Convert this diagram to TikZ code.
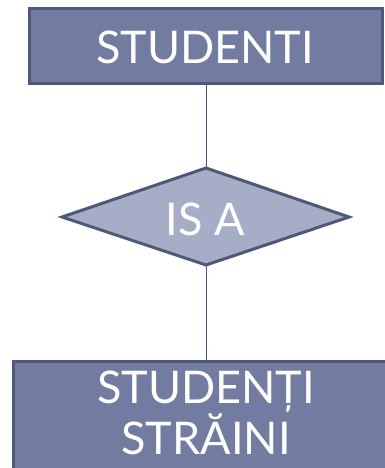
\documentclass[tikz,border=0pt]{standalone}
\usepackage{fontspec}
\setmainfont{Lato}
\usetikzlibrary{shapes.geometric}
\definecolor{boxfill}{HTML}{727BA0}
\definecolor{boxline}{HTML}{4F5878}
\definecolor{diafill}{HTML}{A7ADC7}
\tikzset{
  entity/.style={draw=boxline, fill=boxfill, line width=3pt, text=white, align=center},
  relation/.style={draw=boxline, fill=diafill, line width=3pt, text=white},
  link/.style={draw=boxline, line width=1pt},
  label/.style={text=white, align=center, font=\fontsize{45}{48}\selectfont}
}
\begin{document}
\begin{tikzpicture}[x=1pt,y=-1pt]
\useasboundingbox (0,0) rectangle (385,468);
\clip (0,0) rectangle (385,468);
% top entity
\path[entity] (29,9) rectangle (382,84);
\node[label] (stud) at (205,47) {STUDENTI};
\coordinate (topb) at (206,84);
% diamond
\path[relation] (206,168) -- (349,217) -- (206,265) -- (62,217) -- cycle;
\node[label] (isa) at (205,219) {IS A};
\coordinate (dtop) at (206,168);
\coordinate (dbot) at (206,265);
% bottom entity
\path[entity] (13,361) rectangle (400,490);
\node[label] (strain) at (206,413) {STUDENȚI\\STRĂINI};
\coordinate (bott) at (206,361);
\draw[link] (topb) -- (dtop);
\draw[link] (dbot) -- (bott);
\end{tikzpicture}
\end{document}
